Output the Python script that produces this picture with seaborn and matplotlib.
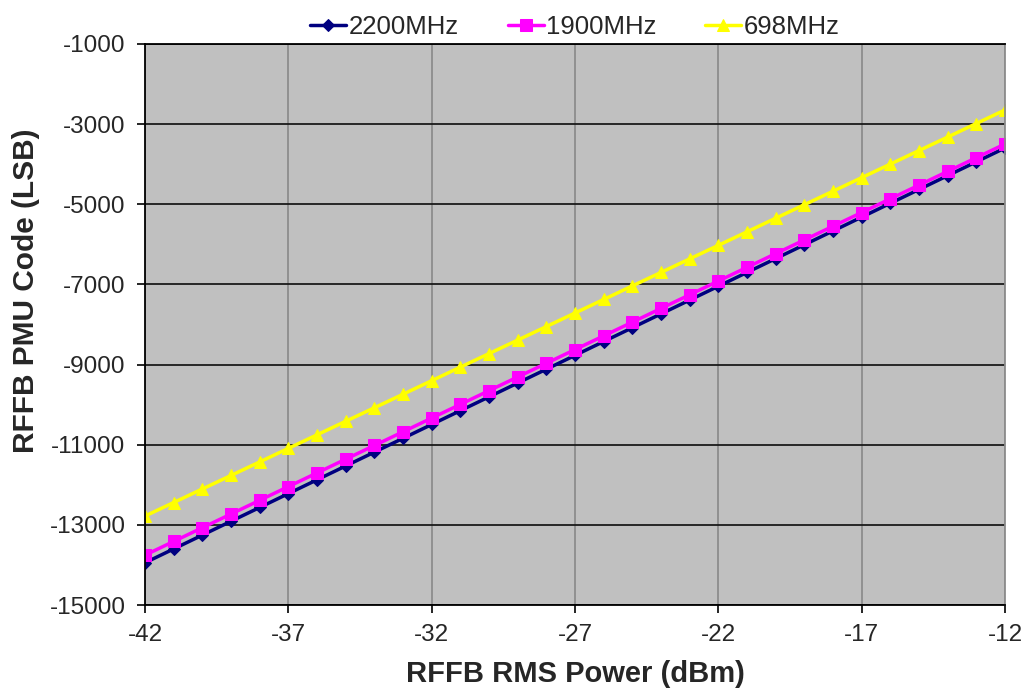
#!/usr/bin/env python3
"""RFFB PMU code vs RMS power for three bands."""

import matplotlib
matplotlib.use("Agg")
import matplotlib.pyplot as plt
import pandas as pd
import seaborn as sns

POWER_DBM = list(range(-42, -11))

CODE_2200 = [-13945, -13600, -13255, -12910, -12565, -12220, -11875, -11530,
             -11185, -10840, -10495, -10150, -9805, -9460, -9115, -8770,
             -8425, -8080, -7735, -7390, -7045, -6700, -6355, -6010,
             -5665, -5320, -4975, -4630, -4285, -3940, -3595]
CODE_1900 = [-13755, -13413, -13071, -12729, -12387, -12045, -11703, -11361,
             -11019, -10677, -10335, -9993, -9651, -9309, -8967, -8625,
             -8283, -7941, -7599, -7257, -6915, -6573, -6231, -5889,
             -5547, -5205, -4863, -4521, -4179, -3837, -3495]
CODE_698 = [-12780, -12442, -12104, -11767, -11429, -11091, -10753, -10415,
            -10078, -9740, -9402, -9064, -8726, -8389, -8051, -7713,
            -7375, -7037, -6700, -6362, -6024, -5686, -5348, -5011,
            -4673, -4335, -3997, -3659, -3322, -2984, -2646]

SERIES = ["2200MHz", "1900MHz", "698MHz"]
COLORS = {"2200MHz": "#000080", "1900MHz": "#FF00FF", "698MHz": "#FFFF00"}
MARKERS = {"2200MHz": "D", "1900MHz": "s", "698MHz": "^"}
SIZES = {"2200MHz": 6, "1900MHz": 9, "698MHz": 8.5}


def main() -> None:
    df = pd.concat([
        pd.DataFrame({"power": POWER_DBM, "code": vals, "band": name})
        for name, vals in zip(SERIES, [CODE_2200, CODE_1900, CODE_698])
    ])

    sns.set_theme(style="ticks")
    plt.rcParams["font.family"] = ["Liberation Sans", "DejaVu Sans"]
    plt.rcParams["axes.unicode_minus"] = False

    fig = plt.figure(figsize=(10.27, 6.94), dpi=100)
    ax = fig.add_axes([0.1412, 0.1282, 0.8374, 0.8084])
    ax.set_facecolor("#C0C0C0")

    for name in SERIES:
        sns.lineplot(data=df[df["band"] == name], x="power", y="code",
                     color=COLORS[name], marker=MARKERS[name],
                     markersize=SIZES[name], markeredgecolor=COLORS[name],
                     linewidth=2.5, label=name, ax=ax)

    ax.set_xlim(-42, -12)
    ax.set_ylim(-15000, -1000)
    ax.set_xticks(range(-42, -11, 5))
    ax.set_yticks(range(-15000, 0, 2000))
    ax.xaxis.grid(True, color="#8c8c8c", linewidth=1.3)
    ax.yaxis.grid(True, color="#1a1a1a", linewidth=1.3)
    ax.set_axisbelow(True)
    ax.tick_params(labelsize=17.5, length=6, width=1.2, color="black", pad=8)
    for side in ["left", "bottom", "top"]:
        ax.spines[side].set_color("black")
        ax.spines[side].set_linewidth(1.3)
    ax.spines["right"].set_color("#8c8c8c")
    ax.spines["right"].set_linewidth(1.3)

    ax.set_xlabel("RFFB RMS Power (dBm)", fontsize=21, fontweight="bold", labelpad=10)
    ax.set_ylabel("RFFB PMU Code (LSB)", fontsize=21.5, fontweight="bold")
    ax.yaxis.set_label_coords(-0.122, 0.561)

    ax.legend(loc="lower center", bbox_to_anchor=(0.5, 0.99), ncol=3,
              frameon=False, fontsize=18.5, handlelength=1.4, handletextpad=0.1,
              columnspacing=1.9, borderaxespad=0)

    fig.savefig("out.png", dpi=100, facecolor="white")


if __name__ == "__main__":
    main()
